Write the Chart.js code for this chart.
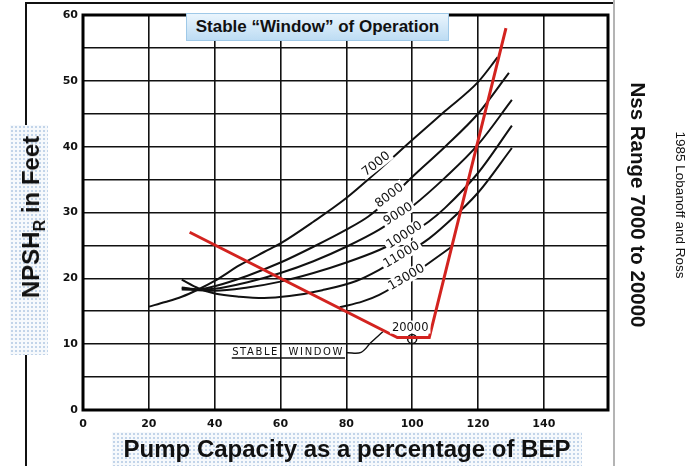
<!DOCTYPE html>
<html>
<head>
<meta charset="utf-8">
<script src="https://cdn.jsdelivr.net/npm/chart.js@4/dist/chart.umd.min.js"></script>
<style>
html,body{margin:0;padding:0;background:#fff;}
#wrap{position:relative;width:700px;height:466px;overflow:hidden;font-family:"Liberation Sans",Arial,sans-serif;color:#111;}
#c{position:absolute;left:0;top:0;}
.abs{position:absolute;}
.dots{position:absolute;background-color:#f6f9fc;background-image:radial-gradient(circle,#c2d4e9 0.9px,transparent 1.3px);background-size:4px 4px;}
.ctr{position:absolute;white-space:nowrap;font-weight:bold;}
</style>
</head>
<body>
<div id="wrap">
  <div class="abs" style="left:25px;top:2px;width:589px;height:2px;background:#111;"></div>
  <div class="abs" style="left:25px;top:2px;width:2px;height:464px;background:#111;"></div>
  <div class="abs" style="left:613px;top:0;width:2px;height:466px;background:#b4b4b4;"></div>
  <div class="dots" style="left:10px;top:125px;width:38px;height:230px;"></div>
  <div class="dots" style="left:112px;top:432px;width:470px;height:34px;"></div>
  <canvas id="c" width="700" height="466"></canvas>
  <div class="abs" style="left:186px;top:13px;width:261px;height:26px;border:1px solid #9fc9e8;background:linear-gradient(#eaf5fd,#bddcf3);font-weight:bold;font-size:17px;line-height:26px;text-align:center;white-space:nowrap;">Stable “Window” of Operation</div>
  <div class="ctr" style="left:31px;top:217px;font-size:24px;transform:translate(-50%,-50%) rotate(-90deg);">NPSH<span style="font-size:16px;position:relative;top:6px;">R</span> in Feet</div>
  <div class="ctr" style="left:347px;top:449px;font-size:24px;transform:translate(-50%,-50%);">Pump Capacity as a percentage of BEP</div>
  <div class="ctr" style="left:638px;top:205px;font-size:20.5px;transform:translate(-50%,-50%) rotate(90deg);">Nss Range 7000 to 20000</div>
  <div class="ctr" style="left:680px;top:205px;font-size:13.5px;font-weight:normal;transform:translate(-50%,-50%) rotate(90deg);">1985 Lobanoff and Ross</div>
</div>
<script>
// ---- data ----
const capTicks = [0, 20, 40, 60, 80, 100, 120, 140];
const npshTicks = [0, 5, 10, 15, 20, 25, 30, 35, 40, 45, 50, 55, 60];

const cap7000 = [20, 25, 30, 35, 40, 47.6, 55, 60, 70, 80, 90, 100, 110, 120, 126];
const npsh7000 = [15.7, 16.4, 17.2, 18.3, 19.6, 22.0, 24.0, 25.3, 28.6, 32.2, 36.5, 41.0, 45.4, 49.8, 53.6];

const cap8000 = [30, 35, 40, 50, 60, 70, 80, 86.7, 93, 100, 110, 120, 129.4];
const npsh8000 = [18.6, 18.3, 18.8, 20.4, 22.4, 24.8, 27.4, 29.4, 32.0, 35.4, 40.0, 45.0, 51.2];

const cap9000 = [30, 35, 40, 50, 60, 70, 80, 90, 95.7, 100, 110, 120, 130.3];
const npsh9000 = [18.5, 18.3, 18.4, 19.4, 20.8, 22.6, 24.8, 27.4, 29.3, 30.9, 35.3, 40.3, 47.1];

const cap10000 = [30, 35, 40, 50, 60, 70, 80, 90, 97.6, 105, 110, 120, 130.3];
const npsh10000 = [18.3, 18.2, 18.1, 18.6, 19.5, 20.8, 22.4, 24.3, 26.2, 28.6, 30.7, 36.0, 43.2];

const cap11000 = [30, 35, 40, 47.6, 55, 62.7, 72.7, 83, 90, 96.7, 105, 110, 120, 130.3];
const npsh11000 = [19.8, 18.5, 17.7, 17.2, 17.0, 17.3, 18.2, 19.6, 21.3, 23.3, 26.0, 28.1, 33.0, 39.8];

const cap13000 = [78, 85, 90, 98.2, 105, 112];
const npsh13000 = [15.6, 16.5, 17.5, 19.9, 22.3, 24.8];

const capWindow = [32.4, 95.5, 105.2, 128.5];
const npshWindow = [27.0, 11.0, 11.0, 58.0];

const capBEP = [100];
const npshBEP = [10.8];

const capLeader = [80.2, 84.5, 87.4, 91.1];
const npshLeader = [8.7, 8.75, 10.2, 11.9];
const capUnderline = [45.2, 79.6];
const npshUnderline = [7.9, 7.9];

const curveLabels = ['7000', '8000', '9000', '10000', '11000', '13000', '20000'];
const labelCap = [89, 93, 95.7, 97.6, 96.7, 98.2, 99.4];
const labelNpsh = [37.4, 32.6, 29.8, 26.6, 23.6, 20.2, 12.6];
const labelAngle = [-38, -37, -32, -33, -31, -30, 0];

const windowText = 'STABLE  WINDOW';
const windowTextCap = 62.3;
const windowTextNpsh = 8.7;

// ---- build ----
const pts = (xs, ys) => xs.map((x, i) => ({x: x, y: ys[i]}));
const curve = (xs, ys) => ({
  data: pts(xs, ys), showLine: true, borderColor: '#111', borderWidth: 2,
  pointRadius: 0, cubicInterpolationMode: 'monotone', fill: false
});

const datasets = [
  {data: pts(capWindow, npshWindow), showLine: true, borderColor: '#d3231f', borderWidth: 3,
   pointRadius: 0, tension: 0, borderJoinStyle: 'miter'},
  {data: pts(capBEP, npshBEP), showLine: false, pointRadius: 4.5, pointBackgroundColor: 'rgba(255,255,255,0)',
   pointBorderColor: '#111', pointBorderWidth: 1.5},
  curve(cap7000, npsh7000),
  curve(cap8000, npsh8000),
  curve(cap9000, npsh9000),
  curve(cap10000, npsh10000),
  curve(cap11000, npsh11000),
  curve(cap13000, npsh13000),
  {data: pts(capLeader, npshLeader), showLine: true, borderColor: '#111', borderWidth: 1.4, pointRadius: 0, tension: 0.35},
  {data: pts(capUnderline, npshUnderline), showLine: true, borderColor: '#111', borderWidth: 1.4, pointRadius: 0}
];

const framePlugin = {
  id: 'frame',
  beforeDatasetsDraw(chart) {
    const a = chart.chartArea, ctx = chart.ctx;
    ctx.save();
    ctx.strokeStyle = '#000';
    ctx.lineWidth = 3;
    ctx.strokeRect(a.left, a.top, a.right - a.left, a.bottom - a.top);
    ctx.restore();
  }
};

const labelPlugin = {
  id: 'curveLabels',
  afterDatasetsDraw(chart) {
    const ctx = chart.ctx, xs = chart.scales.x, ys = chart.scales.y;
    ctx.save();
    ctx.textAlign = 'center';
    ctx.textBaseline = 'middle';
    curveLabels.forEach((t, i) => {
      const px = xs.getPixelForValue(labelCap[i]);
      const py = ys.getPixelForValue(labelNpsh[i]);
      ctx.save();
      ctx.font = (labelAngle[i] === 0 ? '11.5px' : '12.5px') + ' "DejaVu Sans", sans-serif';
      ctx.translate(px, py);
      ctx.rotate(labelAngle[i] * Math.PI / 180);
      const w = ctx.measureText(t).width;
      ctx.fillStyle = '#fff';
      ctx.fillRect(-w / 2 - 2, -6.5, w + 4, 13);
      ctx.fillStyle = '#111';
      ctx.fillText(t, 0, 0.5);
      ctx.restore();
    });
    // stable window text
    ctx.font = '10px "DejaVu Sans", sans-serif';
    if ('letterSpacing' in ctx) ctx.letterSpacing = '1.6px';
    ctx.fillStyle = '#111';
    ctx.fillText(windowText, xs.getPixelForValue(windowTextCap), ys.getPixelForValue(windowTextNpsh));
    ctx.restore();
  }
};

const tickFont = {family: '"DejaVu Sans", sans-serif', size: 11, weight: 'bold'};

new Chart(document.getElementById('c'), {
  type: 'scatter',
  data: {datasets: datasets},
  options: {
    responsive: false,
    animation: false,
    devicePixelRatio: 1,
    events: [],
    layout: {padding: {left: 0, right: 92, top: 15, bottom: 0}},
    plugins: {legend: {display: false}, tooltip: {enabled: false}, title: {display: false}},
    scales: {
      x: {
        type: 'linear', min: 0, max: 159.5,
        afterBuildTicks: (s) => { s.ticks = capTicks.map(v => ({value: v})); },
        afterFit: (s) => { s.height = 56; },
        grid: {color: '#111', lineWidth: 1.6, drawTicks: false},
        border: {display: false},
        ticks: {color: '#111', font: tickFont, padding: 8, maxRotation: 0, autoSkip: false}
      },
      y: {
        type: 'linear', min: 0, max: 60,
        afterBuildTicks: (s) => { s.ticks = npshTicks.map(v => ({value: v})); },
        afterFit: (s) => { s.width = 83; },
        grid: {color: '#111', lineWidth: 1.6, drawTicks: false},
        border: {display: false},
        ticks: {color: '#111', font: tickFont, padding: 5, autoSkip: false,
                callback: (v) => (v % 10 === 0 ? String(v) : '')}
      }
    }
  },
  plugins: [framePlugin, labelPlugin]
});
</script>
</body>
</html>
